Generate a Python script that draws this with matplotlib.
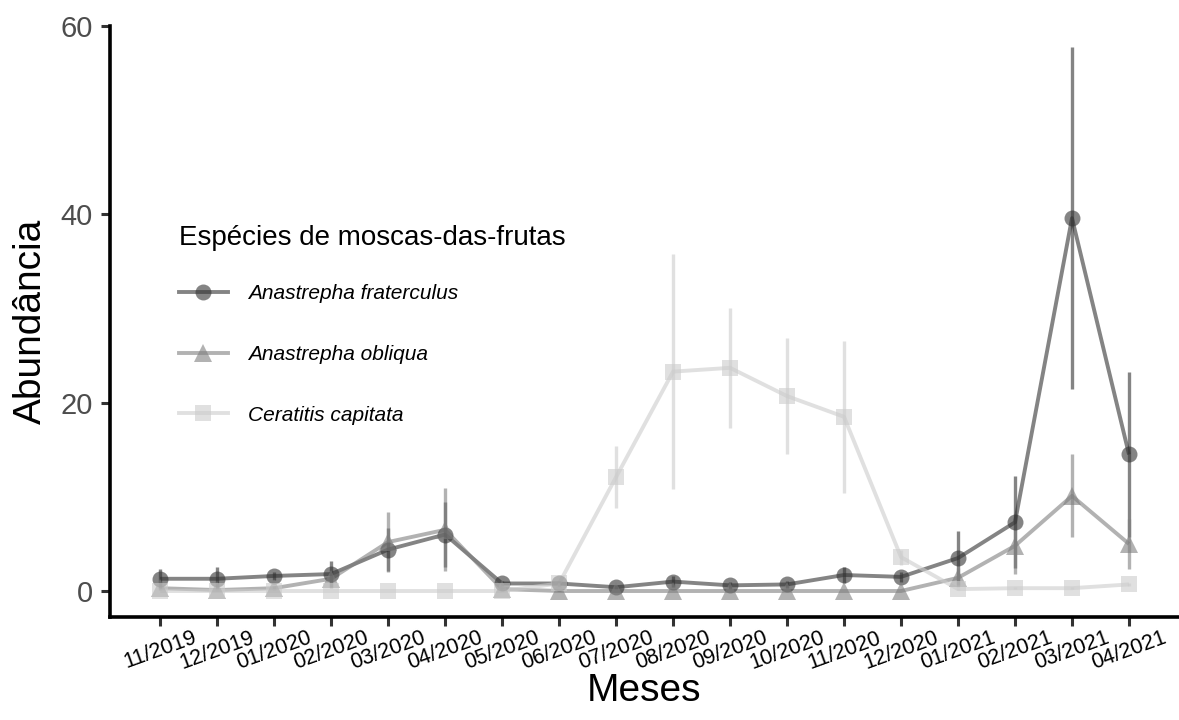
import matplotlib
matplotlib.use("Agg")
import matplotlib.pyplot as plt
from matplotlib.lines import Line2D
import numpy as np

plt.rcParams['font.family'] = ['Liberation Sans', 'DejaVu Sans']

meses = ["11/2019", "12/2019", "01/2020", "02/2020", "03/2020", "04/2020",
         "05/2020", "06/2020", "07/2020", "08/2020", "09/2020", "10/2020",
         "11/2020", "12/2020", "01/2021", "02/2021", "03/2021", "04/2021"]

especies = ["Anastrepha fraterculus", "Anastrepha obliqua", "Ceratitis capitata"]

fraterculus_media = [1.3, 1.3, 1.6, 1.8, 4.4, 6.0, 0.8, 0.8, 0.4, 1.0, 0.6, 0.7,
                     1.7, 1.5, 3.5, 7.3, 39.6, 14.5]
fraterculus_ep = [1.0, 1.2, 0.4, 1.4, 2.3, 3.5, 0.3, 0.3, 0.2, 0.6, 0.4, 0.4,
                  0.8, 0.5, 2.9, 4.9, 18.2, 8.8]

obliqua_media = [0.3, 0.1, 0.3, 1.3, 5.2, 6.5, 0.2, 0.0, 0.0, 0.0, 0.0, 0.0,
                 0.0, 0.0, 1.4, 4.8, 10.1, 5.0]
obliqua_ep = [0.2, 0.1, 0.2, 1.0, 3.2, 4.4, 0.1, 0.0, 0.0, 0.0, 0.0, 0.0,
              0.0, 0.0, 1.0, 3.0, 4.4, 2.7]

capitata_media = [0.0, 0.0, 0.0, 0.0, 0.0, 0.0, 0.0, 0.8, 12.1, 23.3, 23.7, 20.7,
                  18.5, 3.6, 0.2, 0.3, 0.3, 0.7]
capitata_ep = [0.0, 0.0, 0.0, 0.0, 0.0, 0.0, 0.0, 0.3, 3.3, 12.5, 6.4, 6.2,
               8.1, 0.8, 0.1, 0.1, 0.1, 0.2]

cores = ["#333333", "#7f7f7f", "#cccccc"]
marcadores = ["o", "^", "s"]
tamanhos = [11.5, 12.5, 11.0]
alfa = 0.6

fig = plt.figure(figsize=(11.79, 7.2), dpi=100)
ax = fig.add_axes([110 / 1179, 1 - 617 / 720, (1178 - 110) / 1179, (617 - 26) / 720])

x = np.arange(len(meses))
series = [(fraterculus_media, fraterculus_ep),
          (obliqua_media, obliqua_ep),
          (capitata_media, capitata_ep)]

# error bars, then lines, then points (layer by layer)
for (m, e), cor in zip(series, cores):
    m = np.array(m); e = np.array(e)
    ax.vlines(x, m - e, m + e, colors=cor, alpha=alfa, linewidth=2.4, zorder=2)
for (m, e), cor in zip(series, cores):
    ax.plot(x, m, color=cor, alpha=alfa, linewidth=2.8, zorder=3,
            solid_capstyle='butt')
for (m, e), cor, mk, ms in zip(series, cores, marcadores, tamanhos):
    ax.plot(x, m, linestyle='none', marker=mk, markersize=ms, color=cor,
            markeredgewidth=0, alpha=alfa, zorder=4)

ax.set_xlim(-0.88, 17.86)
ax.set_ylim(-2.76, 60)
ax.set_xticks(x)
ax.set_xticklabels(meses, rotation=20, ha='center', fontsize=15.5, color='black')
ax.set_yticks([0, 20, 40, 60])
ax.set_yticklabels(["0", "20", "40", "60"], fontsize=21, color='#4d4d4d')

for lado in ['top', 'right']:
    ax.spines[lado].set_visible(False)
for lado in ['left', 'bottom']:
    ax.spines[lado].set_linewidth(2.6)
    ax.spines[lado].set_color('black')
ax.tick_params(axis='both', length=6.5, width=2.2, color='#333333')
ax.tick_params(axis='y', pad=6)
ax.tick_params(axis='x', pad=1)

ax.set_xlabel("Meses", fontsize=28, labelpad=-1)
ax.set_ylabel("Abundância", fontsize=28, labelpad=8)

alcas = [Line2D([0], [0], color=c, alpha=alfa, linewidth=2.8, marker=mk,
                markersize=ms, markeredgewidth=0)
         for c, mk, ms in zip(cores, marcadores, tamanhos)]
leg = fig.legend(alcas, especies, loc='upper left',
                 bbox_to_anchor=(179 / 1179, 1 - 225 / 720),
                 frameon=False, title="Espécies de moscas-das-frutas",
                 title_fontsize=20, prop={'size': 15, 'style': 'italic'},
                 labelspacing=2.0, handlelength=2.35, handletextpad=0.95,
                 borderpad=0, borderaxespad=0, alignment='left')
leg._legend_box.sep = 24

fig.savefig("out.png", dpi=100)
